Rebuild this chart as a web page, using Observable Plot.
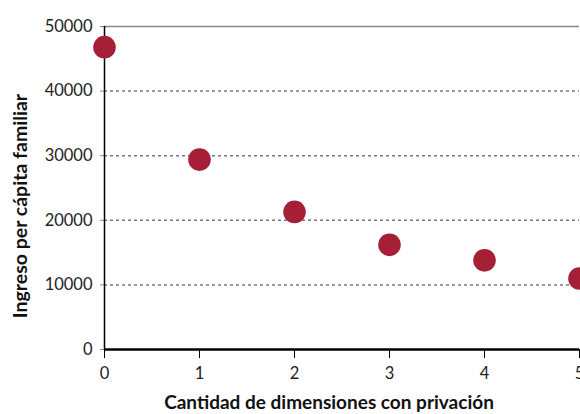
<!DOCTYPE html>
<html><head><meta charset="utf-8">
<script src="https://cdn.jsdelivr.net/npm/d3@7"></script>
<script src="https://cdn.jsdelivr.net/npm/@observablehq/plot@0.6"></script>
<style>body{margin:0;background:#fff}</style>
</head><body><div id="chart"></div>
<script>
const dimensiones = [0, 1, 2, 3, 4, 5];
const ingreso = [46800, 29400, 21300, 16200, 13800, 11000];
const yTicks = [0, 10000, 20000, 30000, 40000, 50000];
const xTicks = [0, 1, 2, 3, 4, 5];
const xTitle = "Cantidad de dimensiones con privación";
const yTitle = "Ingreso per cápita familiar";

const data = dimensiones.map((d, i) => ({x: d, y: ingreso[i]}));

const chart = Plot.plot({
  width: 580, height: 414,
  marginLeft: 104, marginRight: 1, marginTop: 26, marginBottom: 65,
  style: {fontFamily: "Lato", fontSize: "16.5px", color: "#222", background: "#fff", overflow: "visible"},
  x: {domain: [0, 5]},
  y: {domain: [0, 50000]},
  marks: [
    Plot.ruleY(yTicks.filter(d => d > 0 && d < 50000), {stroke: "#777", strokeDasharray: "3,3", strokeWidth: 1.5}),
    Plot.ruleY([50000], {stroke: "#888", strokeWidth: 1.5}),
    Plot.axisY({ticks: yTicks, tickSize: 4, tickPadding: 8, tickFormat: d => String(d), label: null, stroke: "#888"}),
    Plot.axisX({ticks: xTicks, tickSize: 9, tickPadding: 9, tickFormat: d => String(d), label: null, stroke: "#000"}),
    Plot.ruleX([0], {stroke: "#000", strokeWidth: 1.5}),
    Plot.ruleY([0], {stroke: "#000", strokeWidth: 2.5}),
    Plot.dot(data, {x: "x", y: "y", r: 11.3, fill: "#A51F37"}),
    Plot.text([xTitle], {text: d => d, frameAnchor: "bottom", dy: 53, dx: -13, fontWeight: "bold", fontSize: 19, lineAnchor: "middle", textAnchor: "middle", fill: "#111"}),
    Plot.text([yTitle], {text: d => d, frameAnchor: "left", rotate: -90, dx: -84, dy: 18, fontWeight: "bold", fontSize: 19.5, lineAnchor: "middle", textAnchor: "middle", fill: "#111"})
  ]
});
document.getElementById("chart").append(chart);
</script>
</body></html>
